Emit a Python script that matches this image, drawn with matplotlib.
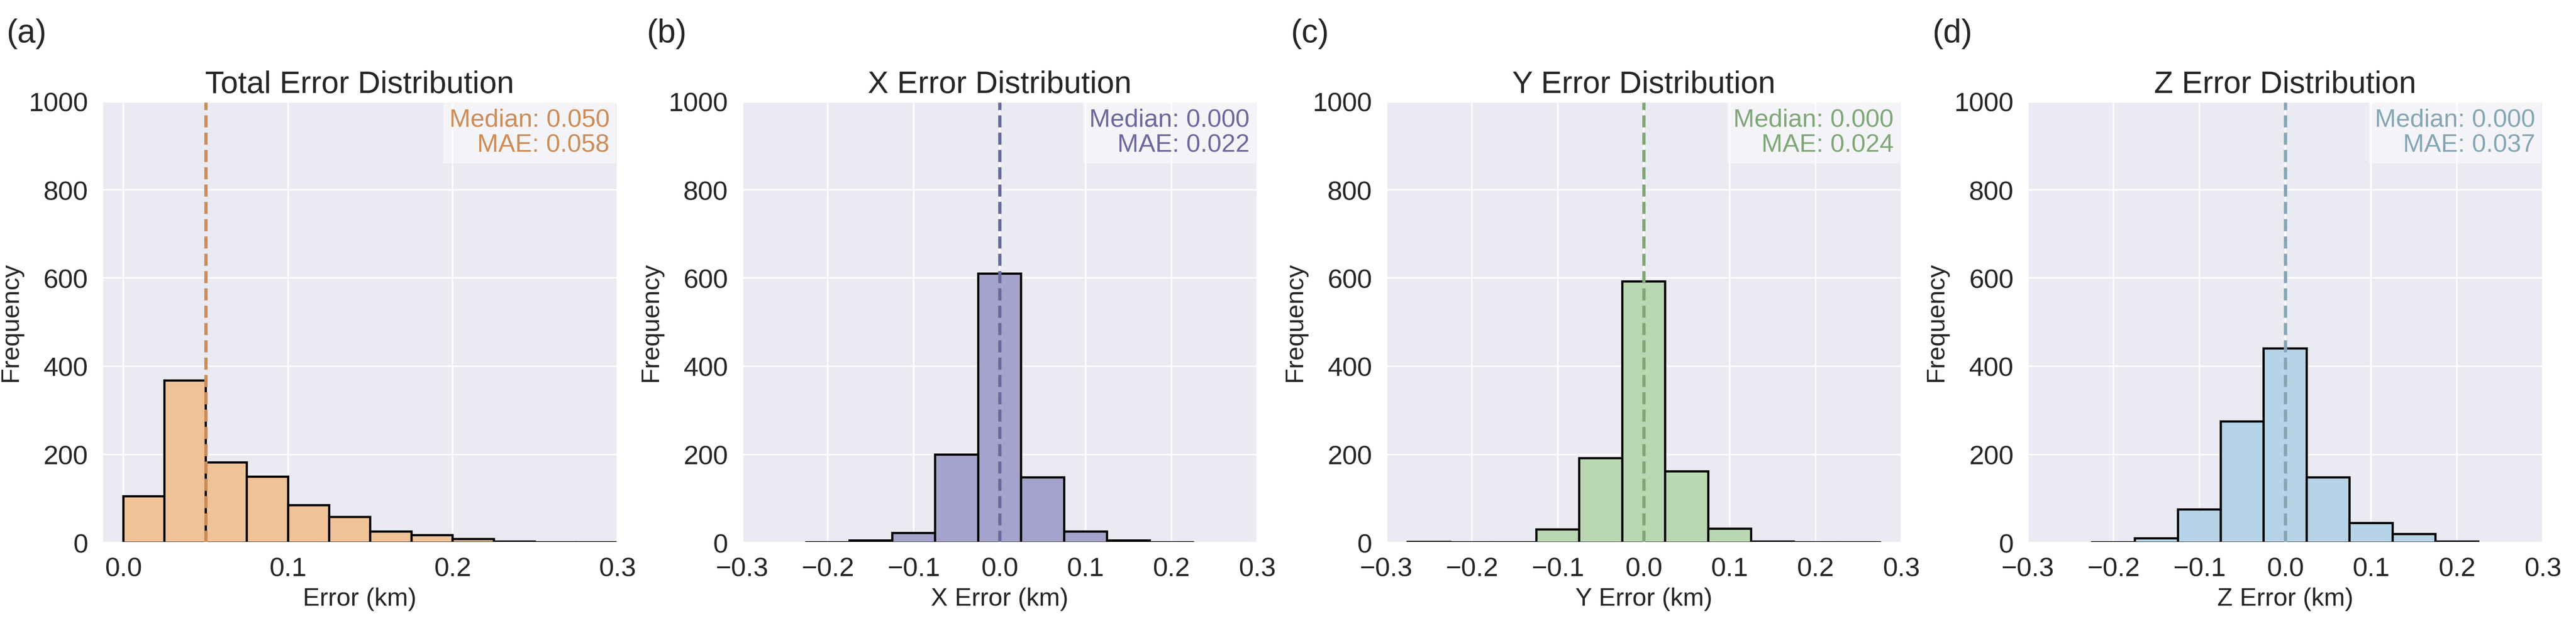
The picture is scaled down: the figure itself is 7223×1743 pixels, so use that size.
import matplotlib
matplotlib.use("Agg")
import matplotlib.pyplot as plt
import seaborn as sns
import numpy as np

sns.set_theme(style="darkgrid")
plt.rcParams['font.family'] = ['Liberation Sans', 'DejaVu Sans']

# data
total_edges = np.arange(0, 0.3001, 0.025)
total_counts = [105, 368, 182, 150, 85, 58, 25, 17, 8, 3, 1, 1]
x_edges = np.arange(-0.225, 0.2251, 0.05)
x_counts = [1, 5, 22, 200, 610, 148, 25, 5, 1]
y_edges = np.arange(-0.275, 0.2751, 0.05)
y_counts = [2, 1, 1, 30, 192, 592, 162, 32, 3, 1, 1]
z_edges = np.arange(-0.225, 0.2251, 0.05)
z_counts = [1, 10, 75, 275, 440, 148, 45, 20, 3]

titles = ["Total Error Distribution", "X Error Distribution", "Y Error Distribution", "Z Error Distribution"]
xlabels = ["Error (km)", "X Error (km)", "Y Error (km)", "Z Error (km)"]
panel = ["(a)", "(b)", "(c)", "(d)"]
medians = [0.050, 0.000, 0.000, 0.000]
maes = [0.058, 0.022, 0.024, 0.037]
fills = ["#f0c298", "#a5a3cc", "#b9d8b1", "#b5d4e8"]
lines = ["#cf8b55", "#6c689e", "#7ea776", "#85a5b5"]
edges_all = [total_edges, x_edges, y_edges, z_edges]
counts_all = [total_counts, x_counts, y_counts, z_counts]

fig = plt.figure(figsize=(24.08, 5.813), dpi=300)
lefts = [0.0396, 0.288, 0.538, 0.787]
for i in range(4):
    ax = fig.add_axes([lefts[i], 0.126, 0.2, 0.71])
    e = edges_all[i]
    ax.bar(e[:-1], counts_all[i], width=np.diff(e), align='edge',
           color=fills[i], edgecolor='black', linewidth=1.5)
    ax.axvline(medians[i], color=lines[i], linestyle='--', linewidth=2.2)
    ax.set_ylim(0, 1000)
    if i == 0:
        ax.set_xlim(-0.013, 0.3)
        ax.set_xticks([0.0, 0.1, 0.2, 0.3])
    else:
        ax.set_xlim(-0.3, 0.3)
        ax.set_xticks([-0.3, -0.2, -0.1, 0.0, 0.1, 0.2, 0.3])
    ax.set_yticks([0, 200, 400, 600, 800, 1000])
    ax.tick_params(labelsize=18)
    ax.set_title(titles[i], fontsize=21)
    ax.set_xlabel(xlabels[i], fontsize=17)
    ax.set_ylabel("Frequency", fontsize=17)
    ax.text(0.985, 0.985, "Median: %.3f\nMAE: %.3f" % (medians[i], maes[i]),
            transform=ax.transAxes, ha='right', va='top', fontsize=17,
            color=lines[i], linespacing=1.1,
            bbox=dict(facecolor='white', alpha=0.5, edgecolor='none', pad=4))
    fig.text(lefts[i] - 0.037, 0.97, panel[i], fontsize=22, va='top')

fig.savefig("out.png", dpi=300)
